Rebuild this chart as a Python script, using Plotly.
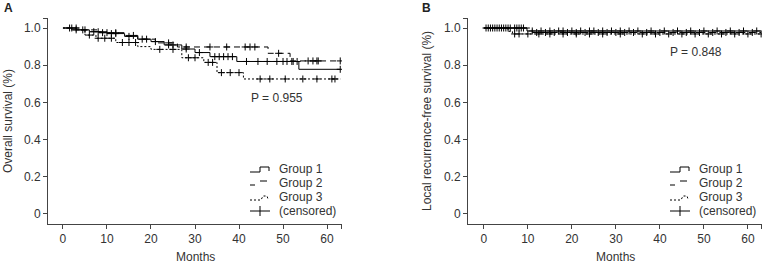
import plotly.graph_objects as go

# ---------------- data ----------------
# Panel A: overall survival (Kaplan-Meier step points)
a_g1_t = [0, 2, 6, 10, 14, 17, 20, 23, 27, 30, 33.4, 39.5, 53.6]
a_g1_s = [1.0, 0.99, 0.98, 0.97, 0.955, 0.94, 0.927, 0.909, 0.887, 0.868, 0.846, 0.82, 0.778]
a_g1_cens = [3, 4.5, 7, 8, 11, 12, 15, 18, 21, 24, 25, 28, 31, 34.5, 35.5, 36.5, 37.5, 38.5,
             41.7, 44.3, 46.4, 48.6, 50, 50.9, 52, 52.3, 53.2, 63]

a_g2_t = [0, 4, 8, 14, 17, 21, 26, 46.6, 51.6]
a_g2_s = [1.0, 0.99, 0.975, 0.96, 0.94, 0.92, 0.898, 0.864, 0.823]
a_g2_cens = [1.5, 3, 5, 9, 10, 12, 16, 19, 24, 28, 33.4, 37.2, 41.4, 42.5, 43.6, 49,
             55.7, 56.8, 57.7, 58, 63]

a_g3_t = [0, 3, 5, 7.5, 12, 17, 20, 27, 32, 35, 41]
a_g3_s = [1.0, 0.99, 0.962, 0.945, 0.922, 0.90, 0.885, 0.84, 0.815, 0.76, 0.726]
a_g3_cens = [2, 6, 8, 9.5, 11, 13.5, 15, 16.5, 22, 25, 28.5, 30, 33, 34, 36, 38, 40,
             44.8, 47, 50.5, 54.5, 57.7, 61.1, 61.8]

# Panel B: local recurrence-free survival
b_g1_t = [0, 9.8]
b_g1_s = [1.0, 0.984]
b_g1_cens = [1, 2, 3, 4, 5, 6, 7, 8, 9, 11, 13, 15, 17, 18, 20, 22, 24, 25, 27, 29, 31,
             33, 35, 38, 41, 44, 47, 50, 53, 56, 59, 62]

b_g2_t = [0, 11]
b_g2_s = [1.0, 0.976]
b_g2_cens = [1.5, 3.5, 5.5, 7.5, 8.5, 12, 14, 16, 19, 21, 23, 26, 28, 30, 32, 34, 37,
             40, 43, 46, 49, 52, 55, 58, 61]

b_g3_t = [0, 5.5, 6.5]
b_g3_s = [1.0, 0.982, 0.968]
b_g3_cens = [0.5, 2.5, 4.5, 7, 8, 10, 12.5, 15, 18, 21, 24, 27, 31, 36, 39, 42, 45, 48,
             51, 54, 57, 60, 63]

end_time = 63
x_ticks = [0, 10, 20, 30, 40, 50, 60]
y_ticks = [0, 0.2, 0.4, 0.6, 0.8, 1.0]
y_ticklabels = ["0", "0.2", "0.4", "0.6", "0.8", "1.0"]
legend_labels = ["Group 1", "Group 2", "Group 3", "(censored)"]
p_values = ["P = 0.955", "P = 0.848"]
y_titles = ["Overall survival (%)", "Local recurrence-free survival (%)"]

# ---------------- helpers ----------------
W, H = 764, 263
FONT = "Liberation Sans, Arial, sans-serif"
TXT = "#333333"
AX = "#444444"


def px(x):
    return x / W


def py(y):
    return 1 - y / H


def step_val(t_list, s_list, t):
    v = s_list[0]
    for ti, si in zip(t_list, s_list):
        if ti <= t:
            v = si
    return v


dashes = ["solid", "6px,4px", "2px,2px"]

fig = go.Figure()

panels = [
    ("x", "y", [(a_g1_t, a_g1_s, a_g1_cens), (a_g2_t, a_g2_s, a_g2_cens), (a_g3_t, a_g3_s, a_g3_cens)]),
    ("x2", "y2", [(b_g1_t, b_g1_s, b_g1_cens), (b_g2_t, b_g2_s, b_g2_cens), (b_g3_t, b_g3_s, b_g3_cens)]),
]

for xa, ya, groups in panels:
    for gi, (t, s, c) in enumerate(groups):
        fig.add_trace(go.Scatter(
            x=t + [end_time], y=s + [s[-1]], mode="lines",
            line=dict(color="black", width=1, dash=dashes[gi], shape="hv"),
            xaxis=xa, yaxis=ya, showlegend=False, hoverinfo="skip"))
        fig.add_trace(go.Scatter(
            x=c, y=[step_val(t, s, ci) for ci in c], mode="markers",
            marker=dict(symbol="cross-thin-open", size=5, color="black",
                        line=dict(color="black", width=1)),
            xaxis=xa, yaxis=ya, showlegend=False, hoverinfo="skip"))

axis_common = dict(showline=True, linecolor=AX, linewidth=1, ticks="outside", ticklen=4,
                   tickcolor=AX, tickwidth=1, showgrid=False, zeroline=False,
                   tickfont=dict(family=FONT, size=12, color=TXT))

y_range = [-0.0538, 1.0538]
ytv = y_ticks + [1.053]
ytt = y_ticklabels + [""]

fig.update_layout(
    width=W, height=H, margin=dict(l=0, r=0, t=0, b=0),
    paper_bgcolor="white", plot_bgcolor="white", showlegend=False,
    xaxis=dict(domain=[px(48), px(342)], range=[-3.4, 63.4], anchor="y",
               tickvals=x_ticks + [63.35], ticktext=[str(v) for v in x_ticks] + [""], **axis_common),
    yaxis=dict(domain=[py(224), py(18)], range=y_range, anchor="x",
               tickvals=ytv, ticktext=ytt, **axis_common),
    xaxis2=dict(domain=[px(468), px(762)], range=[-3.6, 63.2], anchor="y2",
                tickvals=x_ticks + [63.15], ticktext=[str(v) for v in x_ticks] + [""], **axis_common),
    yaxis2=dict(domain=[py(224), py(18)], range=y_range, anchor="x2",
                tickvals=ytv, ticktext=ytt, **axis_common),
)

ann = []
shapes = []
f12 = dict(family=FONT, size=12, color=TXT)

# panel letters
ann.append(dict(text="<b>A</b>", x=px(2), y=py(8), xref="paper", yref="paper", showarrow=False,
                xanchor="left", yanchor="middle", font=dict(family=FONT, size=12, color="#222")))
ann.append(dict(text="<b>B</b>", x=px(420), y=py(8), xref="paper", yref="paper", showarrow=False,
                xanchor="left", yanchor="middle", font=dict(family=FONT, size=12, color="#222")))

# axis titles
ann.append(dict(text="Months", x=px(195), y=py(257), xref="paper", yref="paper", showarrow=False,
                xanchor="center", yanchor="middle", font=f12))
ann.append(dict(text="Months", x=px(615), y=py(257), xref="paper", yref="paper", showarrow=False,
                xanchor="center", yanchor="middle", font=f12))
ann.append(dict(text=y_titles[0], x=px(8), y=py(121), xref="paper", yref="paper", showarrow=False,
                textangle=-90, xanchor="center", yanchor="middle", font=f12))
ann.append(dict(text=y_titles[1], x=px(427), y=py(121), xref="paper", yref="paper", showarrow=False,
                textangle=-90, xanchor="center", yanchor="middle", font=f12))

# p-values
ann.append(dict(text=p_values[0], x=px(277), y=py(98), xref="paper", yref="paper", showarrow=False,
                xanchor="center", yanchor="middle", font=f12))
ann.append(dict(text=p_values[1], x=px(696), y=py(52), xref="paper", yref="paper", showarrow=False,
                xanchor="center", yanchor="middle", font=f12))

# manual legends
row_y = [169, 183, 197, 211]


def P(pts):
    return "M " + " L ".join(f"{px(a)} {py(b)}" for a, b in pts)


for x0 in (250, 670):
    tx = x0 + 27
    for lab, ry in zip(legend_labels, row_y):
        ann.append(dict(text=lab, x=px(tx), y=py(ry), xref="paper", yref="paper", showarrow=False,
                        xanchor="left", yanchor="middle", font=f12))

    # Group 1 solid step
    shapes.append(dict(type="path", xref="paper", yref="paper",
                       path=P([(x0, row_y[0] + 3), (x0 + 10, row_y[0] + 3), (x0 + 10, row_y[0] - 2),
                               (x0 + 19, row_y[0] - 2), (x0 + 19, row_y[0] + 2)]),
                       line=dict(color="black", width=1)))
    # Group 2 dashed
    shapes.append(dict(type="line", xref="paper", yref="paper",
                       x0=px(x0), x1=px(x0 + 5), y0=py(row_y[1] + 2), y1=py(row_y[1] + 2),
                       line=dict(color="black", width=1)))
    shapes.append(dict(type="line", xref="paper", yref="paper",
                       x0=px(x0 + 10), x1=px(x0 + 17), y0=py(row_y[1] - 2), y1=py(row_y[1] - 2),
                       line=dict(color="black", width=1)))
    # Group 3 dotted
    shapes.append(dict(type="path", xref="paper", yref="paper",
                       path=P([(x0, row_y[2] + 3), (x0 + 11, row_y[2] + 3), (x0 + 13, row_y[2] - 1),
                               (x0 + 17, row_y[2] - 1), (x0 + 18, row_y[2] + 2)]),
                       line=dict(color="black", width=1, dash="2px,2px")))
    # censored
    shapes.append(dict(type="line", xref="paper", yref="paper",
                       x0=px(x0), x1=px(x0 + 20), y0=py(row_y[3]), y1=py(row_y[3]),
                       line=dict(color="black", width=1)))
    shapes.append(dict(type="line", xref="paper", yref="paper",
                       x0=px(x0 + 10), x1=px(x0 + 10), y0=py(row_y[3] - 5), y1=py(row_y[3] + 5),
                       line=dict(color="black", width=1)))

fig.update_layout(annotations=ann, shapes=shapes)
fig.write_html("out.html", config={"displayModeBar": False},
               post_script="document.body.style.margin='0px';document.body.style.overflow='hidden';")
